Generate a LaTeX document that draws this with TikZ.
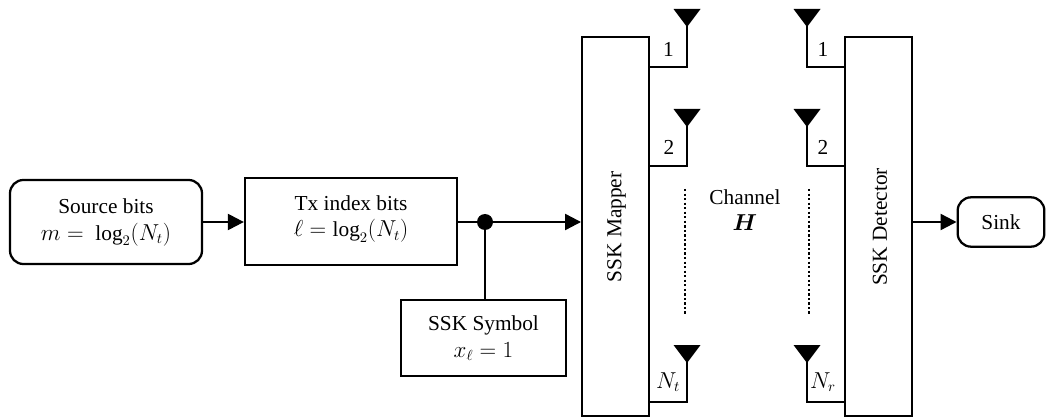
\documentclass[tikz,border=0pt]{standalone}
\usepackage{amsmath}
\usepackage{fontspec}
\setmainfont{Liberation Serif}
\usetikzlibrary{arrows.meta}
\tikzset{
  x=0.75pt,y=-0.75pt,
  line/.style={line width=1.7pt,draw=black},
  blockbox/.style={line,rectangle,inner sep=0pt,align=center,font=\fontsize{16}{20}\selectfont},
  roundbox/.style={blockbox,rounded corners=10pt},
  textonly/.style={inner sep=0pt,align=center,font=\fontsize{16}{20}\selectfont},
  flow/.style={line,-{Triangle[length=12pt,width=12pt]}},
  feed/.style={line,line join=miter},
  ant/.style={fill=black,draw=none},
  dotline/.style={line width=2.2pt,dash pattern=on 1.7pt off 1.7pt},
  lab/.style={font=\fontsize{16}{20}\selectfont,inner sep=0pt},
}
\newcommand{\antenna}[4]{% x, tip y, feed y, side point
  \fill[ant] (#1-13.5,#2-18) -- (#1+13.5,#2-18) -- (#1,#2) -- cycle;
  \draw[feed] (#1,#2-2) -- (#1,#3) -- #4;
}
\begin{document}
\begin{tikzpicture}
\useasboundingbox (0,0) rectangle (1054,417);
\node[roundbox,minimum width=144pt,minimum height=63pt] (src) at (106,222) {};
\node[textonly] (srct) at (106,222.5) {Source bits\\$m=\ \log_2(N_t)$};
\node[blockbox,minimum width=159pt,minimum height=65pt] (tx) at (351,221.5) {};
\node[textonly] (txt) at (351,219) {Tx index bits\\$\ell=\log_2(N_t)$};
\node[blockbox,minimum width=124pt,minimum height=57pt] (sym) at (483.5,338) {SSK Symbol\\$x_\ell=1$};
\node[blockbox,minimum width=50pt,minimum height=284pt] (map) at (615.5,226.5) {};
\node[textonly,rotate=90] (mapt) at (616.5,227) {SSK Mapper};
\node[blockbox,minimum width=50pt,minimum height=284pt] (det) at (878.5,226.5) {};
\node[textonly,rotate=90] (dett) at (880,227) {SSK Detector};
\node[roundbox,minimum width=65pt,minimum height=37pt] (sink) at (1001,222) {Sink};
\node[textonly] (chan) at (745,210) {Channel\\$\boldsymbol{H}$};
\coordinate (junc) at (485,222);
\coordinate (mapin) at (map.west |- junc);
\draw[flow] (src.east |- junc) -- (tx.west |- junc);
\draw[flow] (tx.east |- junc) -- (mapin);
\draw[line] (junc) -- (junc |- sym.north);
\fill (junc) circle (6pt);
\draw[flow] (det.east |- junc) -- (sink.west |- junc);
% antennas
\coordinate (ma) at (map.east |- 0,67);
\coordinate (mb) at (map.east |- 0,166);
\coordinate (mc) at (map.east |- 0,402);
\coordinate (da) at (det.west |- 0,67);
\coordinate (db) at (det.west |- 0,166);
\coordinate (dc) at (det.west |- 0,402);
\antenna{687}{27}{67}{(ma)}
\antenna{687}{127}{166}{(mb)}
\antenna{687}{363}{402}{(mc)}
\antenna{807}{27}{67}{(da)}
\antenna{807}{127}{166}{(db)}
\antenna{807}{363}{402}{(dc)}
\node[lab] (t1) at (668.5,49) {1};
\node[lab] (t2) at (669,147) {2};
\node[lab] (t3) at (668,382) {$N_t$};
\node[lab] (r1) at (823,49) {1};
\node[lab] (r2) at (823,147) {2};
\node[lab] (r3) at (823,382) {$N_r$};
\coordinate (tda) at (685,189);
\coordinate (tdb) at (685,314);
\coordinate (rda) at (809,189);
\coordinate (rdb) at (809,314);
\draw[dotline] (tda) -- (tdb);
\draw[dotline] (rda) -- (rdb);
\end{tikzpicture}
\end{document}
